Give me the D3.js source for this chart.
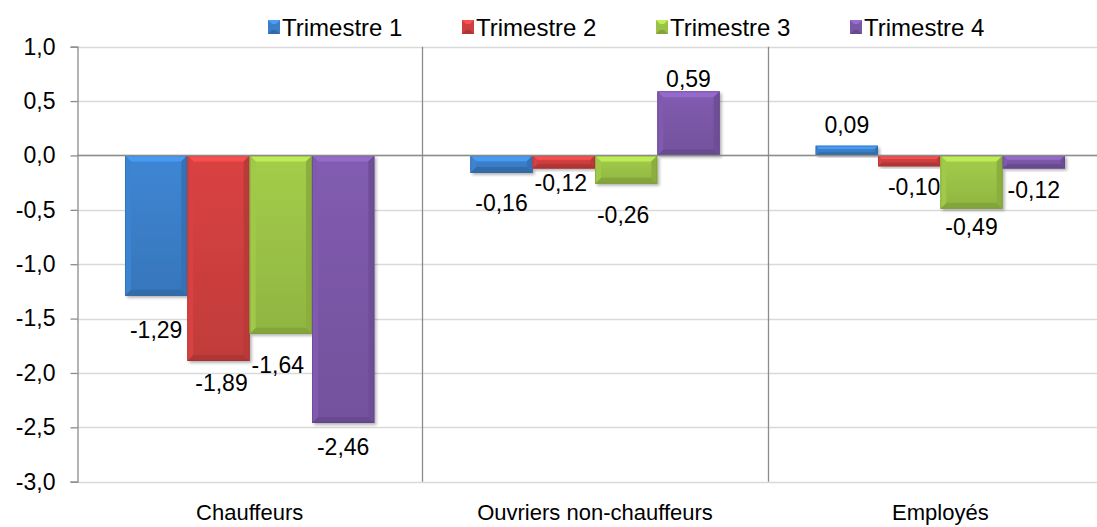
<!DOCTYPE html>
<html>
<head>
<meta charset="utf-8">
<script src="https://cdn.jsdelivr.net/npm/d3@7"></script>
<style>
  html, body { margin: 0; padding: 0; background: #fff; overflow: hidden; }
  svg text { font-family: 'Liberation Sans', Arial, sans-serif; fill: #000; }
</style>
</head>
<body>
<div id="chart"></div>
<script>
const categories = ['Chauffeurs', 'Ouvriers non-chauffeurs', 'Employés'];
const seriesNames = ['Trimestre 1', 'Trimestre 2', 'Trimestre 3', 'Trimestre 4'];
const trimestre1 = [-1.29, -0.16, 0.09];
const trimestre2 = [-1.89, -0.12, -0.10];
const trimestre3 = [-1.64, -0.26, -0.49];
const trimestre4 = [-2.46, 0.59, -0.12];
const yTicks = [1, 0.5, 0, -0.5, -1, -1.5, -2, -2.5, -3];

const seriesValues = [trimestre1, trimestre2, trimestre3, trimestre4];
const colors = ['#3b7fc9', '#cf3f3f', '#9bc246', '#7b57a8'];

// manual label nudges [dx, dy] (dy > 0 = further away from the bar end)
const labelNudge = [
  [[0, 13], [0, 9], [0, 0]],
  [[3, 1], [-3, -7], [5, 0]],
  [[-3, 10], [-3, 10], [0, -3]],
  [[0, 3], [0, -9], [0, 0]],
];

const width = 1097;
const height = 527;
const margins = { top: 46.7, right: -16, bottom: 45.3, left: 77 };

const locale = d3.formatLocale({ decimal: ',', thousands: ' ', grouping: [3], currency: ['', ' €'], minus: '-' });
const tickFormat = locale.format('.1f');
const labelFormat = locale.format('.2f');

const svg = d3.select('#chart').append('svg').attr('width', width).attr('height', height);

const defs = svg.append('defs');
const shadow = defs.append('filter').attr('id', 'shadow').attr('x', '-20%').attr('y', '-20%').attr('width', '140%').attr('height', '140%');
shadow.append('feDropShadow').attr('dx', 2).attr('dy', 2).attr('stdDeviation', 1.8).attr('flood-color', '#000').attr('flood-opacity', 0.3);

colors.forEach((c, i) => {
  const g = defs.append('linearGradient').attr('id', `grad${i}`).attr('x1', 0).attr('y1', 0).attr('x2', 0).attr('y2', 1);
  g.append('stop').attr('offset', '0%').attr('stop-color', d3.color(c).brighter(0.15));
  g.append('stop').attr('offset', '100%').attr('stop-color', d3.color(c).darker(0.2));
});

const x0 = d3.scaleBand().domain(categories).range([margins.left, width - margins.right]).padding(0);
const x1 = d3.scaleBand().domain(seriesNames).range([0, x0.bandwidth()]).paddingInner(0).paddingOuter(0.77);
const y = d3.scaleLinear().domain([-3, 1]).range([height - margins.bottom, margins.top]);

// horizontal gridlines
svg.append('g')
  .selectAll('line')
  .data(yTicks)
  .enter()
  .append('line')
  .attr('x1', margins.left)
  .attr('x2', width - margins.right)
  .attr('y1', (d) => Math.round(y(d)) + 0.5)
  .attr('y2', (d) => Math.round(y(d)) + 0.5)
  .attr('stroke', '#d9d9d9')
  .attr('stroke-width', 1.3);

// vertical category separators
svg.append('g')
  .selectAll('line')
  .data(categories.slice(1))
  .enter()
  .append('line')
  .attr('x1', (d) => Math.round(x0(d)) + 0.5)
  .attr('x2', (d) => Math.round(x0(d)) + 0.5)
  .attr('y1', y(1))
  .attr('y2', y(-3))
  .attr('stroke', '#8c8c8c')
  .attr('stroke-width', 1.3);

// y axis
const yAxis = d3.axisLeft(y).tickValues(yTicks).tickFormat(tickFormat).tickSize(7).tickPadding(15);
const yAxisG = svg.append('g').attr('transform', `translate(${Math.round(margins.left) + 0.5},0)`).call(yAxis);
yAxisG.select('.domain').attr('stroke', '#8c8c8c').attr('stroke-width', 1.3);
yAxisG.selectAll('.tick line').attr('stroke', '#8c8c8c').attr('stroke-width', 1.3);
yAxisG.selectAll('.tick text').attr('font-size', 23).attr('fill', '#000').style('font-family', "'Liberation Sans', Arial, sans-serif");

// bars
const bevel = (g, bx, by, w, h, color, idx) => {
  const b = Math.max(1.5, Math.min(6, h / 3, w / 3));
  const c = d3.color(color);
  g.append('rect').attr('x', bx).attr('y', by).attr('width', w).attr('height', h)
    .attr('fill', `url(#grad${idx})`).attr('filter', 'url(#shadow)');
  const polys = [
    { pts: [[bx, by], [bx + w, by], [bx + w - b, by + b], [bx + b, by + b]], fill: c.brighter(0.55) },
    { pts: [[bx, by + h], [bx + w, by + h], [bx + w - b, by + h - b], [bx + b, by + h - b]], fill: c.darker(0.45) },
    { pts: [[bx, by], [bx + b, by + b], [bx + b, by + h - b], [bx, by + h]], fill: c.brighter(0.1) },
    { pts: [[bx + w, by], [bx + w - b, by + b], [bx + w - b, by + h - b], [bx + w, by + h]], fill: c.darker(0.3) },
  ];
  polys.forEach((p) => {
    g.append('polygon').attr('points', p.pts.map((q) => q.join(',')).join(' ')).attr('fill', p.fill);
  });
  g.append('rect').attr('x', bx + 0.5).attr('y', by + 0.5).attr('width', Math.max(0, w - 1)).attr('height', Math.max(0, h - 1))
    .attr('fill', 'none').attr('stroke', c.darker(0.8)).attr('stroke-opacity', 0.45).attr('stroke-width', 1);
};

const barsG = svg.append('g');
seriesNames.forEach((s, si) => {
  seriesValues[si].forEach((v, ci) => {
    const bx = x0(categories[ci]) + x1(s);
    const w = x1.bandwidth();
    const top = y(Math.max(0, v));
    const h = Math.abs(y(v) - y(0));
    bevel(barsG.append('g'), bx, top, w, h, colors[si], si);
  });
});

// zero axis line
svg.append('line')
  .attr('x1', margins.left)
  .attr('x2', width - margins.right)
  .attr('y1', Math.round(y(0)) + 0.5)
  .attr('y2', Math.round(y(0)) + 0.5)
  .attr('stroke', '#8c8c8c')
  .attr('stroke-width', 1.3);

// data labels
const labelsG = svg.append('g');
seriesNames.forEach((s, si) => {
  seriesValues[si].forEach((v, ci) => {
    const [dx, dy] = labelNudge[si][ci];
    const cx = x0(categories[ci]) + x1(s) + x1.bandwidth() / 2 + dx;
    const off = 21 + dy;
    const cy = v >= 0 ? y(v) - off : y(v) + off;
    labelsG.append('text')
      .attr('x', cx)
      .attr('y', cy)
      .attr('text-anchor', 'middle')
      .attr('dominant-baseline', 'central')
      .attr('font-size', 23)
      .text(labelFormat(v));
  });
});

// category labels
svg.append('g')
  .selectAll('text')
  .data(categories)
  .enter()
  .append('text')
  .attr('x', (d) => x0(d) + x0.bandwidth() / 2)
  .attr('y', 520)
  .attr('text-anchor', 'middle')
  .attr('font-size', 22)
  .text((d) => d);

// legend
const legendX = d3.scaleLinear().domain([0, 3]).range([268, 850]);
const legend = svg.append('g');
seriesNames.forEach((s, i) => {
  const lg = legend.append('g');
  const lx = legendX(i);
  const c = d3.color(colors[i]);
  lg.append('rect').attr('x', lx).attr('y', 20).attr('width', 12).attr('height', 14).attr('fill', colors[i]);
  lg.append('polygon').attr('points', `${lx},20 ${lx + 12},20 ${lx + 8},24 ${lx + 4},24`).attr('fill', c.brighter(0.6));
  lg.append('polygon').attr('points', `${lx},34 ${lx + 12},34 ${lx + 8},30 ${lx + 4},30`).attr('fill', c.darker(0.5));
  lg.append('text')
    .attr('x', lx + 14)
    .attr('y', 27)
    .attr('dominant-baseline', 'central')
    .attr('font-size', 24)
    .text(s);
});
</script>
</body>
</html>
